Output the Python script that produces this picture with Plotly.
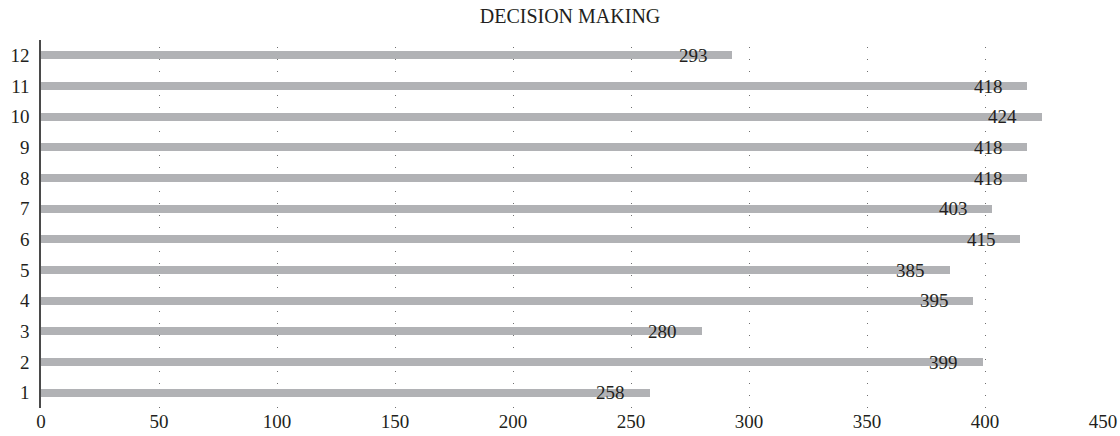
import plotly.graph_objects as go

categories = ["1", "2", "3", "4", "5", "6", "7", "8", "9", "10", "11", "12"]
values = [258, 399, 280, 395, 385, 415, 403, 418, 418, 424, 418, 293]
x_ticks = [0, 50, 100, 150, 200, 250, 300, 350, 400, 450]
title_text = "DECISION MAKING"

FONT = "Liberation Serif, Times New Roman, serif"
TXT = "#231f20"
BAR = "#b1b2b5"

W, H = 1120, 436

ypos = list(range(1, len(categories) + 1))

fig = go.Figure()
fig.add_trace(go.Bar(
    x=values, y=ypos, orientation="h", width=0.26,
    marker=dict(color=BAR, line=dict(width=0)),
    hoverinfo="skip", showlegend=False,
))

for yv, v in zip(ypos, values):
    fig.add_annotation(
        x=v, y=yv, xref="x", yref="y", text=str(v), showarrow=False,
        xanchor="center", yanchor="middle", xshift=-39, yshift=0,
        font=dict(family=FONT, size=19, color=TXT),
    )

fig.update_layout(
    width=W, height=H,
    margin=dict(l=41, r=17, t=40, b=28, autoexpand=False),
    paper_bgcolor="white", plot_bgcolor="white",
    title=dict(text=title_text, x=570 / W, xref="container", xanchor="center",
               y=1 - 16 / H, yref="container", yanchor="middle",
               font=dict(family=FONT, size=20, color=TXT)),
    font=dict(family=FONT, size=19, color=TXT),
    bargap=0,
)

fig.update_xaxes(
    range=[0, 450], tickvals=x_ticks, ticktext=[str(t) for t in x_ticks],
    showgrid=True, gridcolor="#707070", gridwidth=1, griddash="0px,7px,1px,4px",
    zeroline=False, showline=False, ticks="", automargin=False,
    tickfont=dict(family=FONT, size=19, color=TXT),
)
fig.update_yaxes(
    range=[0.5, 12.5], tickvals=ypos, ticktext=categories,
    showgrid=False, zeroline=False, showline=True, linecolor="#4a4a4a", linewidth=1.5,
    ticks="", ticklabelstandoff=6, automargin=False,
    tickfont=dict(family=FONT, size=19, color=TXT),
)

fig.write_html(
    "out.html",
    config={"displayModeBar": False},
    post_script="document.body.style.margin='0';document.body.style.overflow='hidden';",
)
